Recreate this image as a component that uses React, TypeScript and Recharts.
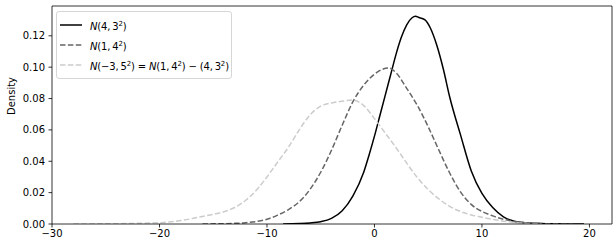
import React from "react";
import { LineChart, Line, XAxis, YAxis, ReferenceLine } from "recharts";

// N(4, 3²) – KDE
const solidX = [-8.5, -7, -6, -5, -4, -3, -2, -1, -0.5, 0, 0.5, 1, 1.5, 2, 2.5, 3, 3.5, 3.8, 4.2, 4.7, 5.2, 5.8, 6.4, 7, 8, 9, 10, 11, 12, 13, 14, 15, 16, 17, 18, 19.5];
const solidY = [0, 0.0003, 0.0007, 0.0015, 0.0036, 0.0085, 0.018, 0.033, 0.044, 0.056, 0.069, 0.082, 0.095, 0.108, 0.119, 0.127, 0.1315, 0.1325, 0.1315, 0.1302, 0.125, 0.114, 0.099, 0.081, 0.057, 0.034, 0.0195, 0.0105, 0.0046, 0.0018, 0.0008, 0.0004, 0.0002, 0.0001, 0.00005, 0];

// N(1, 4²)
const dashedX = [-16, -15, -14, -13, -12, -11, -10, -9, -8, -7, -6, -5, -4, -3, -2, -1, 0, 1.3, 2, 3, 4, 5, 6, 7, 8, 9, 10, 11, 12, 13, 14, 15, 16, 17, 18.5];
const dashedY = [0, 0.0001, 0.0002, 0.0004, 0.0008, 0.0016, 0.003, 0.0057, 0.0092, 0.0142, 0.022, 0.033, 0.047, 0.063, 0.078, 0.0885, 0.0955, 0.0995, 0.0965, 0.0865, 0.0755, 0.062, 0.047, 0.0325, 0.0205, 0.0125, 0.008, 0.0052, 0.003, 0.0016, 0.0008, 0.0004, 0.0002, 0.0001, 0];

// N(-3, 5²)
const lightX = [-28, -26, -24, -22, -20, -18, -17, -16, -15, -14, -13, -12, -11, -10, -9, -8, -7, -6, -5, -4, -3, -2, -1, 0, 1, 2, 3, 4, 5, 6, 7, 8, 9, 10, 11, 12, 13, 14, 15.5];
const lightY = [0, 0.0001, 0.0002, 0.0004, 0.0008, 0.0022, 0.0034, 0.0048, 0.0062, 0.0078, 0.0105, 0.015, 0.0215, 0.03, 0.0395, 0.049, 0.06, 0.0695, 0.0752, 0.0772, 0.0783, 0.079, 0.0755, 0.0672, 0.058, 0.0488, 0.0388, 0.0295, 0.022, 0.016, 0.0112, 0.008, 0.0058, 0.0043, 0.003, 0.0018, 0.001, 0.0005, 0];

const xTicks = [-30, -20, -10, 0, 10, 20];
const yTicks = [0, 0.02, 0.04, 0.06, 0.08, 0.1, 0.12];
const xDomain = [-30, 22.1];
const yDomain = [0, 0.139];

const toPts = (xs: number[], ys: number[]) => xs.map((x, i) => ({ x, y: ys[i] }));
const solidPts = toPts(solidX, solidY);
const dashedPts = toPts(dashedX, dashedY);
const lightPts = toPts(lightX, lightY);

const FONT = "'DejaVu Sans', sans-serif";
const DASH = "5.5 2.4";
const TS = "\u2009"; // thin space, like mathtext after a comma

const fmtX = (v: number) => (v < 0 ? `\u2212${-v}` : `${v}`);

function Sup({ children }: { children: React.ReactNode }) {
  return <span style={{ fontSize: 7, verticalAlign: 4 }}>{children}</span>;
}
const N = () => <span style={{ fontStyle: "italic" }}>N</span>;

function LegendRow({ color, dash, children }: { color: string; dash?: string; children: React.ReactNode }) {
  return (
    <div style={{ display: "flex", alignItems: "center", height: 20, whiteSpace: "nowrap" }}>
      <svg width={22} height={6} style={{ marginRight: 8, flex: "none" }}>
        <line x1={0} y1={3} x2={22} y2={3} stroke={color} strokeWidth={1.5} strokeDasharray={dash} />
      </svg>
      <span>{children}</span>
    </div>
  );
}

export default function App() {
  return (
    <div style={{ position: "absolute", left: 0, top: 0, width: 615, height: 248, fontFamily: FONT, background: "#fff" }}>
      <LineChart width={615} height={248} margin={{ top: 6, right: 3, bottom: 0, left: 0 }}>
        <XAxis
          dataKey="x"
          type="number"
          domain={xDomain}
          ticks={xTicks}
          allowDataOverflow
          height={24}
          tickSize={3.5}
          tickMargin={2}
          tickFormatter={fmtX}
          stroke="#000"
          strokeWidth={0.8}
          tick={{ fill: "#000", fontSize: 10, fontFamily: FONT }}
        />
        <YAxis
          type="number"
          domain={yDomain}
          ticks={yTicks}
          allowDataOverflow
          width={52}
          tickSize={3.5}
          tickMargin={3.5}
          tickFormatter={(v: number) => v.toFixed(2)}
          stroke="#000"
          strokeWidth={0.8}
          tick={{ fill: "#000", fontSize: 10, fontFamily: FONT }}
          label={{ value: "Density", angle: -90, position: "insideLeft", offset: 11, fill: "#000", fontSize: 10, fontFamily: FONT }}
        />
        <ReferenceLine y={yDomain[1]} stroke="#000" strokeWidth={0.8} />
        <ReferenceLine x={xDomain[1]} stroke="#000" strokeWidth={0.8} />
        <Line data={solidPts} dataKey="y" type="monotone" stroke="#000" strokeWidth={1.5} dot={false} isAnimationActive={false} />
        <Line data={dashedPts} dataKey="y" type="monotone" stroke="#666" strokeWidth={1.5} strokeDasharray={DASH} dot={false} isAnimationActive={false} />
        <Line data={lightPts} dataKey="y" type="monotone" stroke="#ccc" strokeWidth={1.5} strokeDasharray={DASH} dot={false} isAnimationActive={false} />
      </LineChart>

      {/* legend, upper left like matplotlib */}
      <div
        style={{
          position: "absolute",
          left: 56,
          top: 11,
          boxSizing: "border-box",
          width: 176,
          height: 68,
          padding: "3px 0 0 3px",
          border: "1px solid #d6d6d6",
          borderRadius: 3,
          background: "rgba(255,255,255,0.8)",
          fontSize: 10,
          color: "#000",
          lineHeight: "20px",
          letterSpacing: -0.15,
        }}
      >
        <LegendRow color="#000">
          <N />(4,{TS}3<Sup>2</Sup>)
        </LegendRow>
        <LegendRow color="#666" dash={DASH}>
          <N />(1,{TS}4<Sup>2</Sup>)
        </LegendRow>
        <LegendRow color="#ccc" dash={DASH}>
          <N />(−3,{TS}5<Sup>2</Sup>) = <N />(1,{TS}4<Sup>2</Sup>) − (4,{TS}3<Sup>2</Sup>)
        </LegendRow>
      </div>
    </div>
  );
}
